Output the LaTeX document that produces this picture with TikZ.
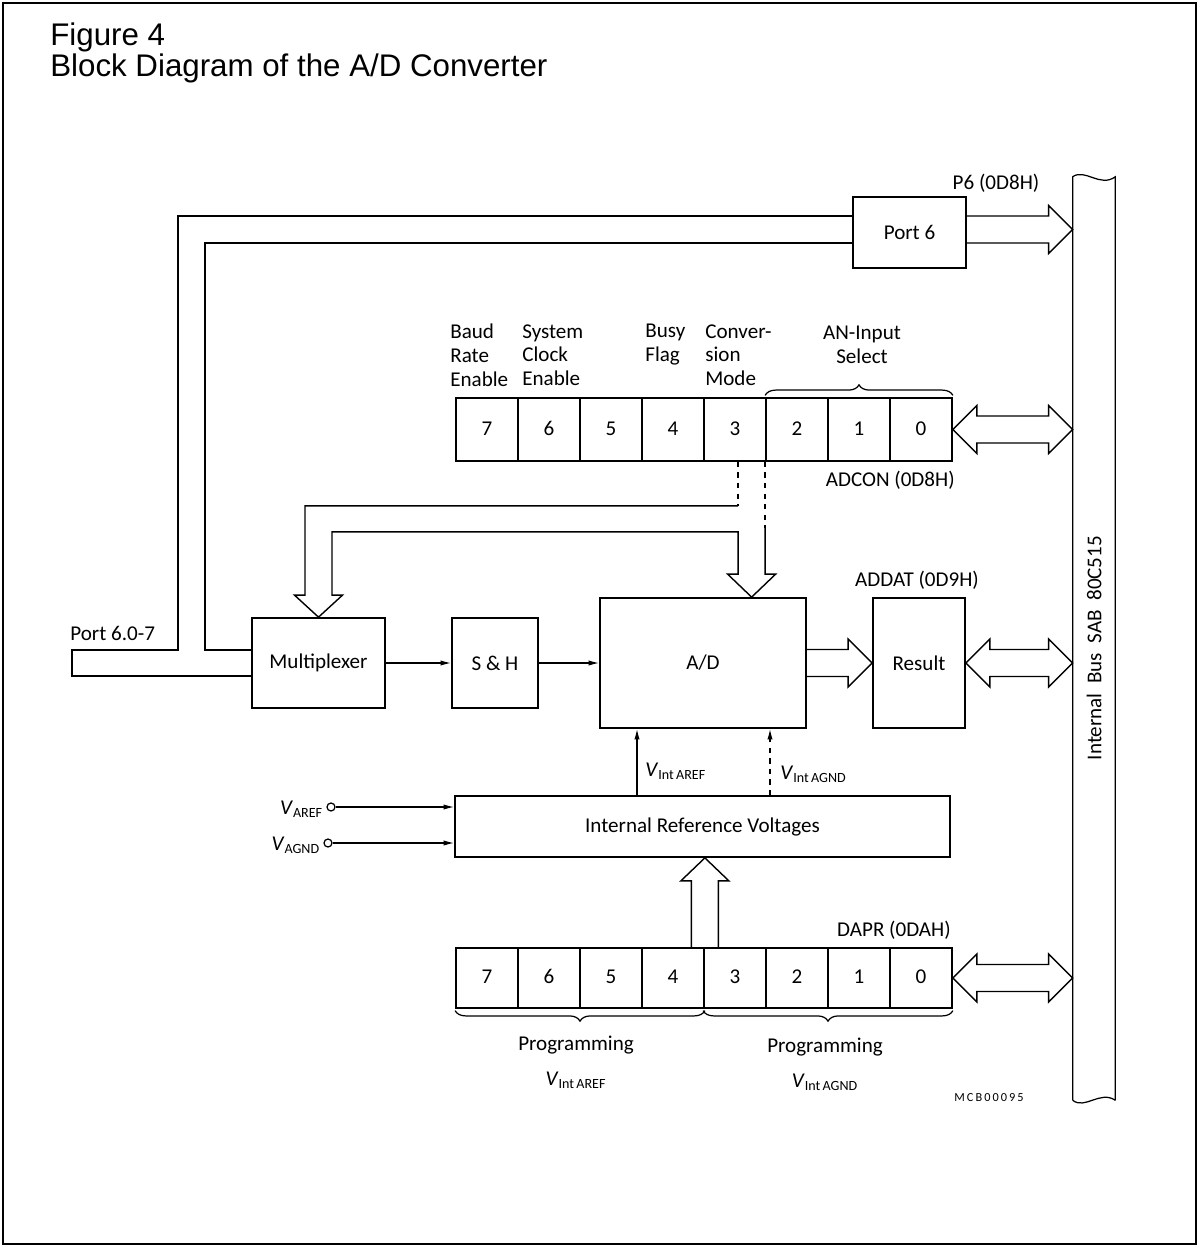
\documentclass[tikz,border=0pt]{standalone}
\usepackage{fontspec}
\setmainfont{Carlito}
\newfontfamily\titlefont{Liberation Sans}
\usetikzlibrary{arrows.meta,calc,decorations.pathreplacing}
\newcommand{\vsub}[1]{\textit{V}\textsubscript{#1}}

\tikzset{
  box/.style={draw, line width=1pt, inner sep=0pt, font=\fontsize{12}{14}\selectfont},
  cell/.style={box, minimum width=1.24cm, text height=1.6ex, text depth=0.2ex},
  wide/.style={line width=0.8pt, line join=miter},
  sig/.style={line width=0.7pt, -{Latex[length=6pt,width=3pt]}},
  lbl/.style={inner sep=0pt, font=\fontsize{12}{13.4}\selectfont},
  term/.style={circle, draw, line width=0.7pt, inner sep=0pt, minimum size=0.16cm},
  brc/.style={line width=0.7pt, decorate, decoration={brace, amplitude=6pt, raise=1pt}},
}

\begin{document}
\begin{tikzpicture}[x=0.02cm, y=-0.02cm]
  \useasboundingbox (0,0) rectangle (1200,1247);
  \draw[line width=0.6pt] (3,3) rectangle (1196,1244);
  \node[anchor=west, inner sep=0pt, font=\titlefont\fontsize{17.8}{20}\selectfont] (fig) at (50,37) {Figure 4};
  \node[anchor=west, inner sep=0pt, font=\titlefont\fontsize{17.8}{20}\selectfont] (title) at (50,68) {Block Diagram of the A/D Converter};

  % internal bus
  \node[minimum width=0.84cm, minimum height=18.46cm, inner sep=0pt] (bus) at (1094,638.5) {};
  \draw[line width=0.7pt] (bus.south west) -- (bus.north west)
    .. controls (1085,168) and (1100,188) .. (bus.north east) -- (bus.south east);
  \draw[line width=0.7pt] (bus.south west) .. controls (1085,1110) and (1100,1090) .. (bus.south east);
  \node[lbl, rotate=90] (buslbl) at (1094,648) {Internal\ \ Bus\ \ SAB\ \ 80C515};

  % blocks
  \node[box, minimum width=2.26cm, minimum height=1.42cm] (port6) at (909.5,232.5) {Port 6};
  \node[box, minimum width=2.66cm, minimum height=1.8cm] (mux) at (318.5,663) {Multiplexer};
  \node[box, minimum width=1.72cm, minimum height=1.8cm] (sh) at (495,663) {S \& H};
  \node[box, minimum width=4.12cm, minimum height=2.6cm] (ad) at (703,663) {A/D};
  \node[box, minimum width=1.84cm, minimum height=2.6cm] (result) at (919,663) {Result};
  \node[box, minimum width=9.9cm, minimum height=1.22cm] (irv) at (702.5,826.5) {Internal\ Reference\ Voltages};

  % registers
  \foreach \b [count=\k from 0] in {7,6,5,4,3,2,1,0} {
    \node[cell, minimum height=1.26cm] (adc\b) at ({487+62*\k},429.5) {\b};
    \node[cell, minimum height=1.2cm] (dapr\b) at ({487+62*\k},978) {\b};
  }

  % labels
  \node[lbl, anchor=south] (p6lbl) at (996,193) {P6 (0D8H)};
  \node[lbl, align=left, anchor=north west] (baud) at (450,324) {Baud\\Rate\\Enable};
  \node[lbl, align=left, anchor=north west] (sysclk) at (522,324) {System\\Clock\\Enable};
  \node[lbl, align=left, anchor=north west] (busy) at (645,324) {Busy\\Flag};
  \node[lbl, align=left, anchor=north west] (convmode) at (705,324) {Conver-\\sion\\Mode};
  \node[lbl, align=center, anchor=north] (anin) at (862,326) {AN-Input\\Select};
  \node[lbl, anchor=east] (adconlbl) at (955,480) {ADCON (0D8H)};
  \node[lbl, anchor=south] (addatlbl) at (917,590) {ADDAT (0D9H)};
  \node[lbl, anchor=south east] (daprlbl) at (951,940) {DAPR (0DAH)};
  \node[lbl] (prga) at (576,1045) {Programming};
  \node[lbl] (vprga) at (576,1080) {\vsub{Int\,AREF}};
  \node[lbl] (prgg) at (825,1047) {Programming};
  \node[lbl] (vprgg) at (825,1082) {\vsub{Int\,AGND}};
  \node[inner sep=0pt, font=\fontsize{7}{8}\selectfont] (code) at (989,1098) {M\,C\,B\,0\,0\,0\,9\,5};

  % braces
  \draw[brc] (adc2.north west) -- (adc0.north east);
  \draw[brc, decoration={mirror}] (dapr7.south west) -- (dapr4.south east);
  \draw[brc, decoration={mirror}] (dapr3.south west) -- (dapr0.south east);

  % port 6 lines
  \coordinate (p6w) at ($(port6.west)+(0,-3)$);
  \coordinate (p6e) at ($(port6.east)+(0,-3)$);
  \coordinate (p60) at (72,663);
  \node[lbl, anchor=base west] (p60lbl) at (70,640) {Port 6.0-7};
  \draw[wide] ($(p6w)+(0,-13.5)$) -| (178,650) -- ($(p60)+(0,-13)$) -- ($(p60)+(0,13)$) -- ($(mux.west)+(0,13)$);
  \draw[wide] ($(p6w)+(0,13.5)$) -| (205,650) -- ($(mux.west)+(0,-13)$);
  \draw[wide] ($(p6e)+(0,-13.5)$) -- ($(bus.west |- p6e)+(-24,-13.5)$) -- ++(0,-10.5) -- (bus.west |- p6e)
    -- ++(-24,24) -- ++(0,-10.5) -- ($(p6e)+(0,13.5)$);

  % ADCON to multiplexer and A/D
  \coordinate (adtip) at ($(adc2.south west |- ad.north)+(-13.5,0)$);
  \coordinate (ml) at ($(adtip |- adc3.south)+(-13.5,0)$);
  \coordinate (mr) at ($(adtip |- adc3.south)+(13.5,0)$);
  \draw[wide, dashed] (ml) -- ++(0,44);
  \draw[wide, dashed] (mr) -- ++(0,66);
  \draw[wide] ($(ml)+(0,44)$) -| ($(mux.north)+(-13.5,-22)$) -- ++(-10.5,0) -- (mux.north) -- ++(24,-22)
    -- ++(-10.5,0) |- ($(ml)+(0,70)$) -- ($(adtip)+(-13.5,-23)$) -- ++(-10.5,0) -- (adtip)
    -- ++(24,-23) -- ++(-10.5,0) -- ($(mr)+(0,66)$);

  % data path
  \draw[sig] (mux) -- (sh);
  \draw[sig] (sh) -- (ad);
  \draw[wide] ($(ad.east)+(0,-13.5)$) -- ($(result.west)+(-24,-13.5)$) -- ++(0,-10.5) -- (result.west)
    -- ++(-24,24) -- ++(0,-10.5) -- ($(ad.east)+(0,13.5)$);
  \foreach \a in {adc0, result, dapr0}
    \draw[wide] (\a.east) -- ++(24,-24) -- ++(0,10.5) -- ($(bus.west |- \a.east)+(-24,-13.5)$) -- ++(0,-10.5)
      -- (bus.west |- \a.east) -- ++(-24,24) -- ++(0,-10.5) -- ($(\a.east)+(24,13.5)$) -- ++(0,10.5) -- cycle;

  % reference voltages
  \node[term] (vref) at (331,807) {};
  \node[term] (vgnd) at (328,843) {};
  \node[lbl, anchor=east] (vreflbl) at ($(vref.west)+(-3,2)$) {\vsub{AREF}};
  \node[lbl, anchor=east] (vgndlbl) at ($(vgnd.west)+(-3,2)$) {\vsub{AGND}};
  \draw[sig] (vref) -- (vref -| irv.west);
  \draw[sig] (vgnd) -- (vgnd -| irv.west);
  \coordinate (vi) at ($(ad.south)+(-66,0)$);
  \coordinate (vg) at ($(ad.south)+(67,0)$);
  \draw[sig] (vi |- irv.north) -- (vi);
  \draw[sig, dashed] (vg |- irv.north) -- (vg);
  \node[lbl, anchor=west] (vilbl) at ($(vi)+(8,42)$) {\vsub{Int\,AREF}};
  \node[lbl, anchor=west] (vglbl) at ($(vg)+(10,45)$) {\vsub{Int\,AGND}};

  % DAPR to reference voltages
  \coordinate (up) at (dapr4.north east);
  \draw[wide] ($(up)+(-13.5,0)$) -- ($(up |- irv.south)+(-13.5,23)$) -- ++(-10.5,0) -- (up |- irv.south)
    -- ++(24,23) -- ++(-10.5,0) -- ($(up)+(13.5,0)$);
\end{tikzpicture}
\end{document}
